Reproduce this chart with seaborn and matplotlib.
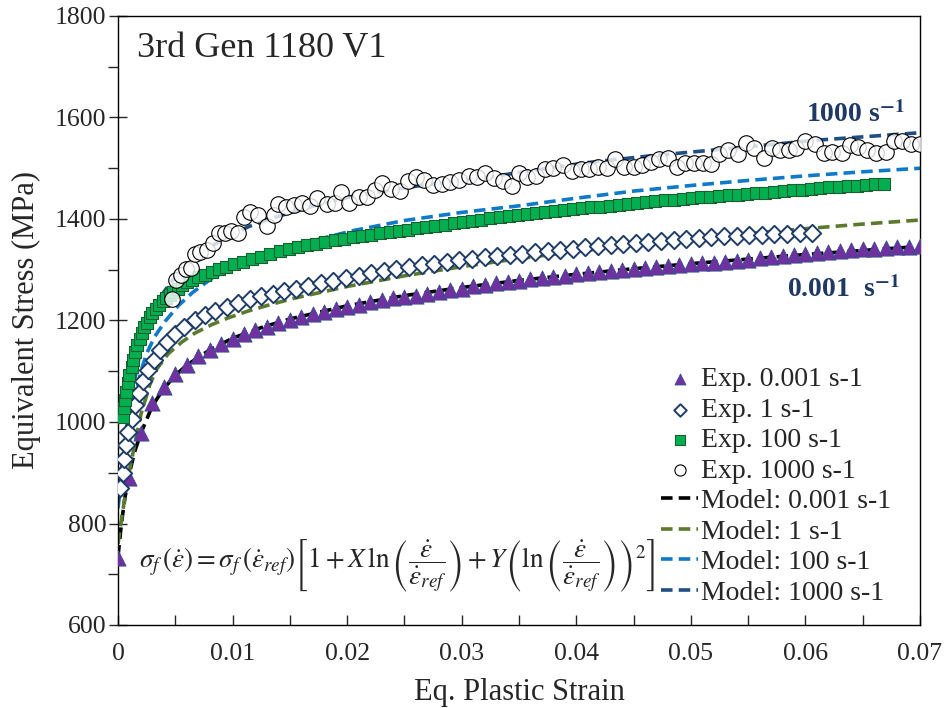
import numpy as np
import pandas as pd
import matplotlib
matplotlib.use("Agg")
import matplotlib.pyplot as plt
import seaborn as sns

# ---------------- experimental data ----------------
# quasi-static 0.001 s-1
exp_0001_strain = [0.000, 0.001, 0.002, 0.003, 0.004, 0.005, 0.006, 0.007, 0.008, 0.009,
                   0.010, 0.011, 0.012, 0.013, 0.014, 0.015, 0.016, 0.017, 0.018, 0.019,
                   0.020, 0.021, 0.022, 0.023, 0.024, 0.025, 0.026, 0.027, 0.028, 0.029,
                   0.030, 0.031, 0.032, 0.033, 0.034, 0.035, 0.036, 0.037, 0.038, 0.039,
                   0.040, 0.041, 0.042, 0.043, 0.044, 0.045, 0.046, 0.047, 0.048, 0.049,
                   0.050, 0.051, 0.052, 0.053, 0.054, 0.055, 0.056, 0.057, 0.058, 0.059,
                   0.060, 0.061, 0.062, 0.063, 0.064, 0.065, 0.066, 0.067, 0.068, 0.069,
                   0.070]
exp_0001_stress = [732, 890, 978, 1037, 1069, 1094, 1113, 1130, 1142, 1154,
                   1163, 1174, 1181, 1188, 1196, 1201, 1207, 1213, 1217, 1222,
                   1227, 1230, 1236, 1240, 1244, 1247, 1249, 1253, 1257, 1260,
                   1263, 1267, 1270, 1273, 1276, 1278, 1281, 1284, 1286, 1288,
                   1291, 1293, 1296, 1298, 1300, 1302, 1304, 1306, 1308, 1310,
                   1311, 1313, 1314, 1316, 1318, 1320, 1323, 1325, 1327, 1329,
                   1331, 1333, 1335, 1337, 1338, 1340, 1341, 1342, 1344, 1345,
                   1346]

# 1 s-1
exp_1_strain = [0.0002, 0.0004, 0.0005, 0.0007, 0.0009, 0.0012, 0.0015, 0.0018, 0.0022, 0.0026,
                0.0031, 0.0037, 0.0043, 0.0050, 0.0058, 0.0067, 0.0076, 0.0085, 0.0095, 0.0105,
                0.0115, 0.0125, 0.0135, 0.0145, 0.0155, 0.0166, 0.0177, 0.0188, 0.0199, 0.0210,
                0.0221, 0.0232, 0.0243, 0.0254, 0.0265, 0.0276, 0.0287, 0.0298, 0.0309, 0.0320,
                0.0331, 0.0342, 0.0353, 0.0364, 0.0375, 0.0386, 0.0397, 0.0408, 0.0419, 0.0430,
                0.0441, 0.0452, 0.0463, 0.0474, 0.0485, 0.0496, 0.0507, 0.0518, 0.0529, 0.0540,
                0.0551, 0.0562, 0.0573, 0.0584, 0.0595, 0.0606]
exp_1_stress = [870, 900, 928, 955, 980, 1006, 1033, 1057, 1080, 1102,
                1122, 1142, 1158, 1174, 1188, 1201, 1210, 1218, 1227, 1235,
                1242, 1248, 1253, 1258, 1263, 1268, 1273, 1278, 1283, 1288,
                1293, 1297, 1301, 1305, 1309, 1312, 1316, 1319, 1322, 1325,
                1327, 1330, 1332, 1334, 1336, 1339, 1341, 1344, 1346, 1348,
                1351, 1353, 1355, 1357, 1359, 1361, 1363, 1364, 1366, 1367,
                1368, 1369, 1370, 1371, 1372, 1373]

# 100 s-1
exp_100_strain = [0.0004, 0.0005, 0.0006, 0.0007, 0.0009, 0.0010, 0.0012, 0.0013, 0.0015, 0.0017,
                  0.0019, 0.0021, 0.0023, 0.0025, 0.0028, 0.0030, 0.0033, 0.0036, 0.0039, 0.0042,
                  0.0045, 0.0048, 0.0052, 0.0056, 0.0060, 0.0065, 0.0070, 0.0076, 0.0082, 0.0088,
                  0.0094, 0.0101, 0.0109, 0.0117, 0.0125, 0.0133, 0.0141, 0.0149, 0.0157, 0.0165,
                  0.0173, 0.0181, 0.0189, 0.0197, 0.0205, 0.0213, 0.0221, 0.0229, 0.0237, 0.0245,
                  0.0253, 0.0261, 0.0269, 0.0277, 0.0285, 0.0293, 0.0301, 0.0309, 0.0317, 0.0325,
                  0.0333, 0.0341, 0.0349, 0.0357, 0.0365, 0.0373, 0.0381, 0.0389, 0.0397, 0.0405,
                  0.0413, 0.0421, 0.0429, 0.0437, 0.0445, 0.0453, 0.0461, 0.0469, 0.0477, 0.0485,
                  0.0493, 0.0501, 0.0509, 0.0517, 0.0525, 0.0533, 0.0541, 0.0549, 0.0557, 0.0565,
                  0.0573, 0.0581, 0.0589, 0.0597, 0.0605, 0.0613, 0.0621, 0.0629, 0.0637, 0.0645,
                  0.0653, 0.0661, 0.0669]
exp_100_stress = [1010, 1027, 1043, 1059, 1076, 1092, 1108, 1122, 1137, 1151,
                  1164, 1176, 1187, 1196, 1206, 1214, 1222, 1230, 1238, 1245,
                  1251, 1257, 1263, 1269, 1275, 1280, 1285, 1290, 1296, 1301,
                  1306, 1311, 1316, 1321, 1326, 1331, 1336, 1340, 1344, 1348,
                  1351, 1355, 1358, 1361, 1364, 1367, 1369, 1372, 1374, 1377,
                  1379, 1382, 1384, 1387, 1389, 1392, 1394, 1397, 1399, 1401,
                  1403, 1405, 1407, 1409, 1411, 1413, 1415, 1417, 1419, 1421,
                  1423, 1424, 1426, 1428, 1430, 1431, 1433, 1435, 1437, 1438,
                  1440, 1441, 1443, 1444, 1445, 1447, 1448, 1449, 1451, 1452,
                  1454, 1455, 1457, 1458, 1460, 1461, 1463, 1464, 1465, 1466,
                  1467, 1468, 1469]

# 1000 s-1
exp_1000_strain = [0.0047, 0.0051, 0.0055, 0.0059, 0.0064, 0.0067, 0.0072, 0.0078, 0.0083, 0.0088,
                   0.0093, 0.0099, 0.0105, 0.0110, 0.0115, 0.0122, 0.0130, 0.0136, 0.0140, 0.0147,
                   0.0154, 0.0161, 0.0168, 0.0174, 0.0182, 0.0189, 0.0195, 0.0202, 0.0210, 0.0217,
                   0.0224, 0.0230, 0.0238, 0.0246, 0.0253, 0.0260, 0.0267, 0.0275, 0.0283, 0.0290,
                   0.0298, 0.0306, 0.0313, 0.0320, 0.0328, 0.0336, 0.0344, 0.0350, 0.0357, 0.0365,
                   0.0373, 0.0380, 0.0388, 0.0396, 0.0404, 0.0411, 0.0419, 0.0427, 0.0434, 0.0442,
                   0.0450, 0.0457, 0.0465, 0.0472, 0.0480, 0.0488, 0.0495, 0.0503, 0.0511, 0.0518,
                   0.0525, 0.0532, 0.0541, 0.0548, 0.0555, 0.0564, 0.0571, 0.0578, 0.0586, 0.0592,
                   0.0600, 0.0608, 0.0616, 0.0623, 0.0632, 0.0639, 0.0646, 0.0654, 0.0662, 0.0670,
                   0.0677, 0.0684, 0.0692, 0.0700]
exp_1000_stress = [1242, 1280, 1290, 1301, 1303, 1332, 1334, 1339, 1352, 1373,
                   1372, 1377, 1372, 1403, 1413, 1408, 1386, 1408, 1430, 1424,
                   1428, 1431, 1426, 1441, 1430, 1431, 1454, 1432, 1444, 1444,
                   1457, 1470, 1460, 1456, 1474, 1482, 1477, 1467, 1469, 1472,
                   1477, 1484, 1482, 1490, 1480, 1474, 1465, 1490, 1482, 1485,
                   1498, 1500, 1507, 1495, 1498, 1498, 1503, 1500, 1519, 1503,
                   1503, 1506, 1513, 1519, 1521, 1503, 1511, 1511, 1511, 1508,
                   1528, 1535, 1529, 1549, 1539, 1521, 1539, 1536, 1536, 1539,
                   1553, 1547, 1531, 1533, 1531, 1546, 1541, 1536, 1531, 1533,
                   1553, 1553, 1548, 1548]

# ---------------- model curves ----------------
mod_0001_strain = [0.0, 0.0003, 0.0006, 0.001, 0.0015, 0.002, 0.003, 0.004, 0.005, 0.006,
                   0.008, 0.010, 0.0125, 0.015, 0.020, 0.025, 0.030, 0.035, 0.040, 0.045,
                   0.050, 0.055, 0.060, 0.065, 0.070]
mod_0001_stress = [735, 800, 850, 900, 945, 978, 1032, 1066, 1092, 1112,
                   1142, 1165, 1186, 1203, 1229, 1249, 1265, 1279, 1291, 1302,
                   1312, 1321, 1330, 1338, 1346]

mod_1_strain = [0.0, 0.0003, 0.0007, 0.001, 0.0015, 0.002, 0.0028, 0.0034, 0.0044, 0.0056,
                0.0067, 0.0082, 0.0096, 0.0114, 0.0134, 0.0154, 0.0178, 0.020, 0.025, 0.030,
                0.035, 0.040, 0.045, 0.050, 0.055, 0.060, 0.065, 0.070]
mod_1_stress = [760, 807, 866, 905, 960, 1015, 1075, 1105, 1135, 1158,
                1175, 1192, 1205, 1219, 1232, 1244, 1256, 1267, 1288, 1306,
                1322, 1336, 1349, 1361, 1371, 1381, 1390, 1398]

mod_100_strain = [0.0, 0.0002, 0.0005, 0.001, 0.0015, 0.002, 0.0025, 0.0032, 0.0041, 0.0053,
                  0.0065, 0.008, 0.010, 0.0125, 0.015, 0.0175, 0.0205, 0.025, 0.030, 0.035,
                  0.040, 0.045, 0.050, 0.055, 0.060, 0.065, 0.070]
mod_100_stress = [830, 870, 925, 990, 1050, 1100, 1135, 1168, 1198, 1230,
                  1255, 1280, 1305, 1328, 1345, 1360, 1377, 1397, 1413, 1426,
                  1441, 1455, 1466, 1476, 1485, 1493, 1500]

mod_1000_strain = [0.0, 0.0003, 0.0007, 0.001, 0.0015, 0.002, 0.0026, 0.0035, 0.0045, 0.0056,
                   0.0073, 0.0093, 0.0114, 0.0134, 0.0154, 0.0178, 0.0205, 0.0264, 0.0322, 0.0357,
                   0.0409, 0.0467, 0.0525, 0.0608, 0.070]
mod_1000_stress = [840, 905, 980, 1030, 1090, 1145, 1195, 1240, 1272, 1300,
                   1334, 1362, 1385, 1401, 1415, 1430, 1445, 1466, 1482, 1494,
                   1511, 1525, 1537, 1555, 1570]

x_ticks = [0, 0.01, 0.02, 0.03, 0.04, 0.05, 0.06, 0.07]
x_tick_labels = ["0", "0.01", "0.02", "0.03", "0.04", "0.05", "0.06", "0.07"]
y_ticks = [600, 800, 1000, 1200, 1400, 1600, 1800]

# ---------------- styling ----------------
sns.set_theme(style="white")
plt.rcParams["font.family"] = ["Liberation Serif", "DejaVu Serif"]
plt.rcParams["mathtext.fontset"] = "stix"
plt.rcParams["axes.linewidth"] = 1.0

fig, ax = plt.subplots(figsize=(9.45, 7.08), dpi=100)
fig.subplots_adjust(left=118 / 945, right=920 / 945, bottom=83 / 708, top=1 - 16 / 708)

dash = (0, (3.2, 1.7))
lw = 2.6

def model_line(strain, stress, color, label):
    df = pd.DataFrame({"strain": strain, "stress": stress})
    sns.lineplot(data=df, x="strain", y="stress", ax=ax, color=color, lw=lw,
                 linestyle=dash, label=label, sort=True, errorbar=None, zorder=2)

model_line(mod_0001_strain, mod_0001_stress, "black", "Model: 0.001 s-1")
model_line(mod_1_strain, mod_1_stress, "#5B7A2E", "Model: 1 s-1")
model_line(mod_100_strain, mod_100_stress, "#0F7AC8", "Model: 100 s-1")
model_line(mod_1000_strain, mod_1000_stress, "#1F4E85", "Model: 1000 s-1")

sns.scatterplot(x=exp_0001_strain, y=exp_0001_stress, ax=ax, marker="^", s=120,
                color="#7030A0", edgecolor="#34508C", linewidth=0.6,
                label="Exp. 0.001 s-1", zorder=3)
sns.scatterplot(x=exp_1_strain, y=exp_1_stress, ax=ax, marker="D", s=78,
                color="white", edgecolor="#1F3C68", linewidth=1.4,
                label="Exp. 1 s-1", zorder=3)
sns.scatterplot(x=exp_100_strain, y=exp_100_stress, ax=ax, marker="s", s=82,
                color="#00B050", edgecolor="#1B5E2F", linewidth=0.8,
                label="Exp. 100 s-1", zorder=4)
sns.scatterplot(x=exp_1000_strain, y=exp_1000_stress, ax=ax, marker="o", s=125,
                color="white", edgecolor="black", linewidth=0.8,
                label="Exp. 1000 s-1", zorder=5)
ax.collections[-1].set_facecolor((1, 1, 1, 0.8))

# ---------------- axes ----------------
ax.set_xlim(0, 0.07)
ax.set_ylim(600, 1800)
ax.set_xticks(x_ticks)
ax.set_xticklabels(x_tick_labels)
ax.set_yticks(y_ticks)
ax.set_xticks(np.arange(0.005, 0.07, 0.01), minor=True)
ax.set_yticks(np.arange(700, 1800, 200), minor=True)
ax.tick_params(axis="y", which="major", direction="inout", length=13, width=1.0,
               labelsize=18.5, pad=2, left=True)
ax.tick_params(axis="y", which="minor", direction="out", length=7, width=1.0, left=True)
ax.tick_params(axis="x", which="both", direction="in", length=7, width=1.0,
               labelsize=18.5, pad=13, bottom=True)
for sp in ax.spines.values():
    sp.set_color("black")
    sp.set_linewidth(1.0)

ax.set_xlabel("Eq. Plastic Strain", fontsize=22, labelpad=9)
ax.set_ylabel("Equivalent Stress (MPa)", fontsize=22, labelpad=10)

ax.text(0.024, 0.947, "3rd Gen 1180 V1", transform=ax.transAxes, fontsize=26,
        ha="left", va="center")
ax.text(0.0644, 1605, r"1000 s$^{\mathbf{-1}}$", fontsize=20, fontweight="bold",
        color="#1F3864", ha="center", va="center")
ax.text(0.0633, 1260, r"0.001  s$^{\mathbf{-1}}$", fontsize=20, fontweight="bold",
        color="#1F3864", ha="center", va="center")

formula = (r"$\sigma_f\,\left(\dot{\varepsilon}\right)=\sigma_f\,\left(\dot{\varepsilon}_{ref}\right)"
           r"\left[1+X\,\ln\left(\dfrac{\dot{\varepsilon}}{\dot{\varepsilon}_{ref}}\right)"
           r"+Y\left(\ln\left(\dfrac{\dot{\varepsilon}}{\dot{\varepsilon}_{ref}}\right)\right)^2\right]$")
ax.text(0.348, 0.098, formula, transform=ax.transAxes, fontsize=19.5,
        ha="center", va="center")

# legend: experiments first, then models
handles, labels = ax.get_legend_handles_labels()
order = [labels.index(l) for l in ["Exp. 0.001 s-1", "Exp. 1 s-1", "Exp. 100 s-1",
                                   "Exp. 1000 s-1", "Model: 0.001 s-1", "Model: 1 s-1",
                                   "Model: 100 s-1", "Model: 1000 s-1"]]
leg = ax.legend([handles[i] for i in order], [labels[i] for i in order],
                loc="upper left", bbox_to_anchor=((661 - 118) / 802, (625 - 367) / 609),
                frameon=False, fontsize=20, handlelength=1.35, handletextpad=0.1,
                labelspacing=0.18, borderpad=0.0, borderaxespad=0.0, markerscale=0.72)

fig.savefig("out.png", dpi=100)
